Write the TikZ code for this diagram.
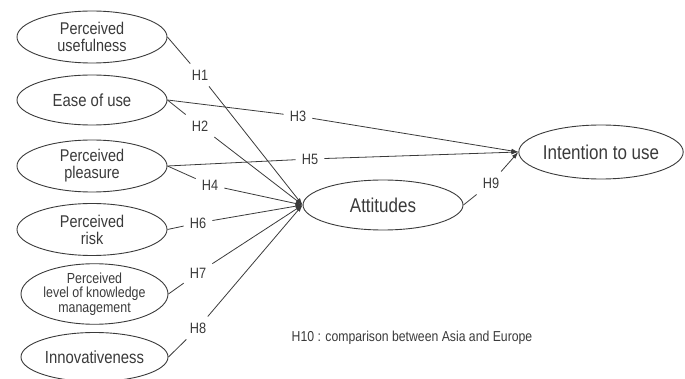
\documentclass[tikz,border=0pt]{standalone}
\usepackage{fontspec}
\setmainfont{Liberation Sans}[FakeStretch=0.85]
\usetikzlibrary{shapes.geometric,arrows.meta}
\definecolor{ink}{HTML}{3A3A3A}
\begin{document}
\begin{tikzpicture}[x=1pt,y=-1pt,
  construct/.style={ellipse,draw=ink,line width=0.9pt,inner sep=0pt,align=center,text=ink,
     font=\fontsize{17.5}{17.5}\selectfont},
  twoline/.style={font=\fontsize{17}{17}\selectfont},
  hlab/.style={inner xsep=6pt,inner ysep=6pt,text=ink,font=\fontsize{15}{15}\selectfont},
  link/.style={draw=ink,line width=0.8pt},
  arr/.style={link,-{Latex[length=7pt,width=4.5pt]}}]
\useasboundingbox (0,0) rectangle (685,379);
% left constructs
\node[construct,twoline,minimum width=150pt,minimum height=52pt] (pu) at (92,37) {Perceived\\usefulness};
\node[construct,minimum width=150pt,minimum height=50pt] (eou) at (92,100) {Ease of use};
\node[construct,twoline,minimum width=150pt,minimum height=52pt] (pp) at (92,166) {Perceived\\pleasure};
\node[construct,twoline,minimum width=150pt,minimum height=52pt] (pr) at (92,229.5) {Perceived\\risk};
\node[construct,minimum width=147pt,minimum height=52pt,font=\fontsize{14.6}{14.6}\selectfont] (km) at (94.5,294) {Perceived\\level of knowledge\\management};
\node[construct,minimum width=147pt,minimum height=49pt] (inn) at (94.5,357) {Innovativeness};
% right constructs
\node[construct,minimum width=160pt,minimum height=50pt,font=\fontsize{20}{20}\selectfont] (att) at (383,205) {Attitudes};
\node[construct,minimum width=153pt,minimum height=54pt,font=\fontsize{20}{20}\selectfont] (int) at (601,152) {Intention to use};
% hypothesis labels
\node[hlab] (h1) at (200,75) {H1};
\node[hlab] (h2) at (200,126) {H2};
\node[hlab] (h3) at (298,116) {H3};
\node[hlab] (h4) at (210,185) {H4};
\node[hlab] (h5) at (310,159) {H5};
\node[hlab] (h6) at (198,223) {H6};
\node[hlab] (h7) at (198,273) {H7};
\node[hlab] (h8) at (198,328) {H8};
\node[hlab] (h9) at (491,183) {H9};
\node[text=ink,font=\fontsize{14.4}{15}\selectfont] (h10) at (412,338) {H10 : comparison between Asia and Europe};
% connectors
\draw[link] (pu.east) -- (h1);  \draw[arr] (h1) -- (att.west);
\draw[link] (eou.east) -- (h2); \draw[arr] (h2) -- (att.west);
\draw[link] (eou.east) -- (h3); \draw[arr] (h3) -- (int.west);
\draw[link] (pp.east) -- (h4);  \draw[arr] (h4) -- (att.west);
\draw[link] (pp.east) -- (h5);  \draw[arr] (h5) -- (int.west);
\draw[link] (pr.east) -- (h6);  \draw[arr] (h6) -- (att.west);
\draw[link] (km.east) -- (h7);  \draw[arr] (h7) -- (att.west);
\draw[link] (inn.east) -- (h8); \draw[arr] (h8) -- (att.west);
\draw[link] (att.east) -- (h9); \draw[arr] (h9) -- (int.west);
\end{tikzpicture}
\end{document}
